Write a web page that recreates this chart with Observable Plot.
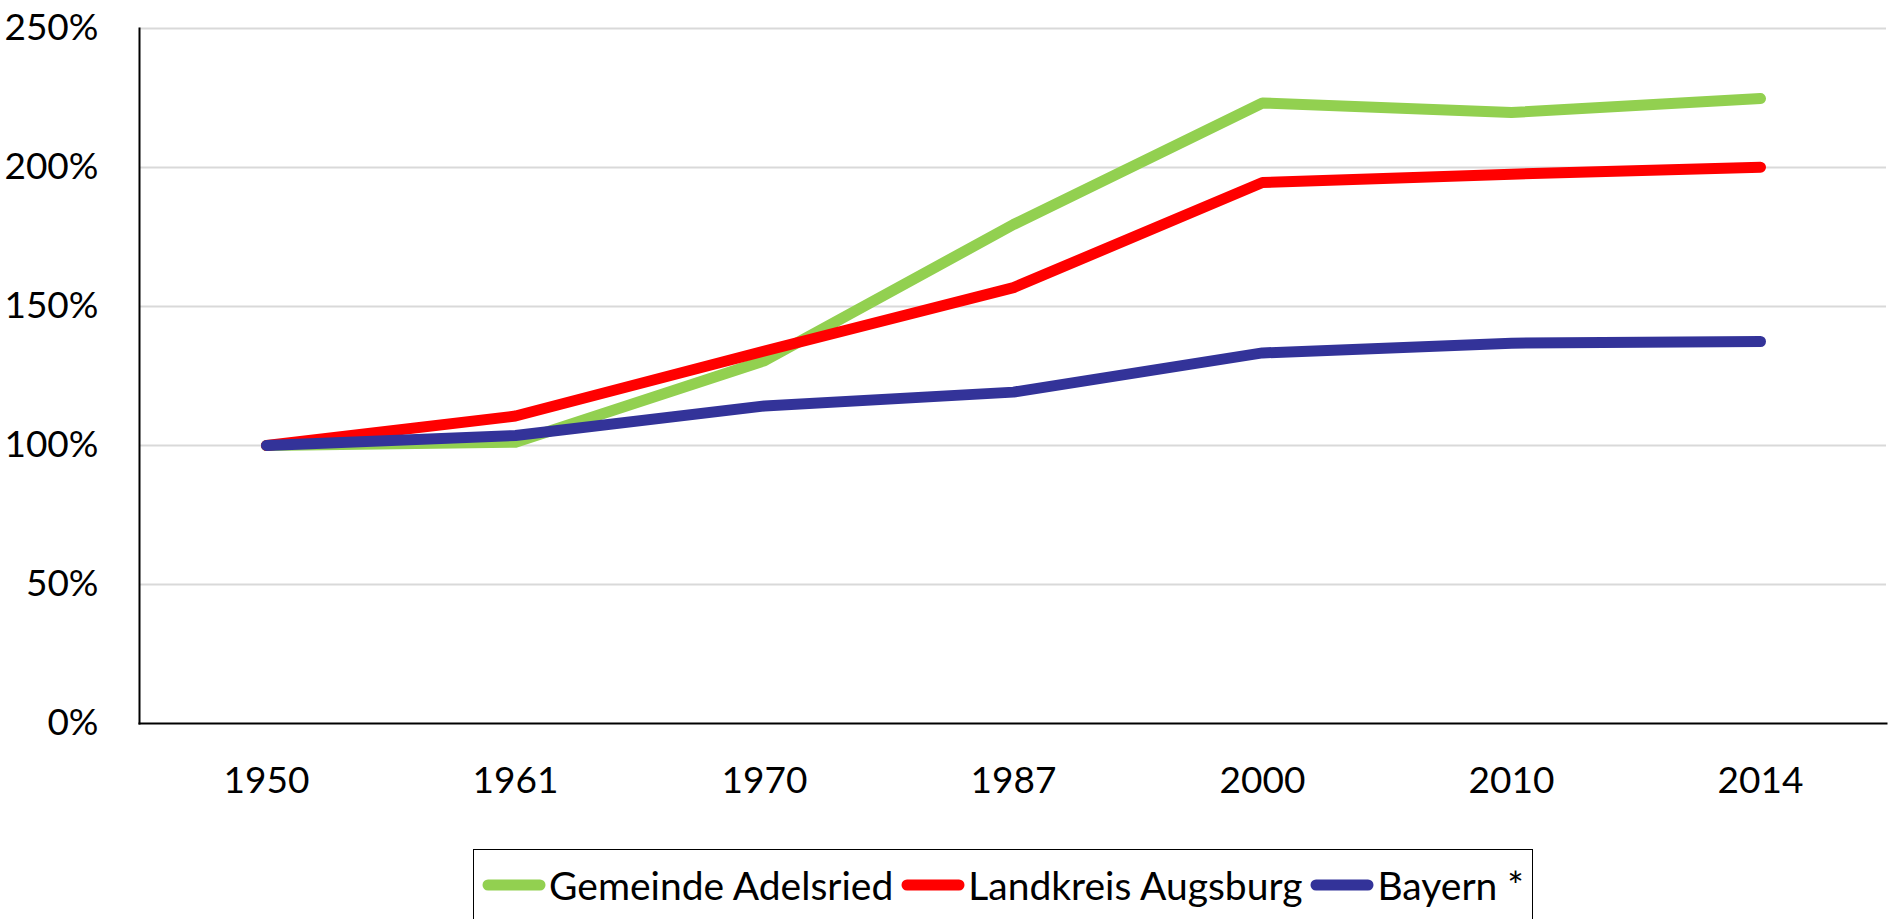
<!DOCTYPE html>
<html>
<head>
<meta charset="utf-8">
<script src="https://cdn.jsdelivr.net/npm/d3@7"></script>
<script src="https://cdn.jsdelivr.net/npm/@observablehq/plot@0.6"></script>
<style>
  html, body { margin: 0; padding: 0; background: #fff; }
  #wrap { position: relative; width: 1892px; height: 919px; overflow: hidden; font-family: Lato, sans-serif; }
  #legend {
    position: absolute; left: 473px; top: 849px; width: 1060px; height: 72px;
    box-sizing: border-box; border: 1.5px solid #000;
    display: flex; align-items: center; justify-content: center;
    font-family: Lato, sans-serif; font-size: 39px; color: #000;
  }
  .item { display: flex; align-items: center; margin: 0 4px; white-space: nowrap; }
  .item svg { margin-right: 3px; }
</style>
</head>
<body>
<div id="wrap"><div id="chart"></div><div id="legend"></div></div>
<script>
const years = ["1950", "1961", "1970", "1987", "2000", "2010", "2014"];
const seriesNames = ["Gemeinde Adelsried", "Landkreis Augsburg", "Bayern *"];
const seriesColors = ["#92d050", "#ff0000", "#333399"];
const adelsried = [100, 101.2, 130.5, 179.5, 223.2, 219.8, 224.8];
const augsburg = [100, 110.6, 134.0, 156.8, 194.6, 197.6, 200.1];
const bayern = [100, 103.6, 114.2, 119.2, 133.3, 136.8, 137.4];
const yTicks = [0, 50, 100, 150, 200, 250];
const gridTicks = [50, 100, 150, 200, 250];

const valuesBySeries = [adelsried, augsburg, bayern];
const data = [];
seriesNames.forEach((name, i) => {
  years.forEach((y, j) => data.push({series: name, year: y, value: valuesBySeries[i][j]}));
});

const chart = Plot.plot({
  width: 1892,
  height: 842,
  marginLeft: 139,
  marginRight: 6,
  marginTop: 28,
  marginBottom: 119,
  style: {fontFamily: "Lato, sans-serif", fontSize: "37px", color: "#000", background: "#fff", overflow: "visible"},
  x: {type: "point", domain: years, padding: 0.5},
  y: {domain: [0, 250]},
  color: {domain: seriesNames, range: seriesColors},
  marks: [
    Plot.ruleY(gridTicks, {stroke: "#d9d9d9", strokeWidth: 2}),
    Plot.axisY({ticks: yTicks, tickSize: 0, tickPadding: 41, tickFormat: d => d + "%", label: null}),
    Plot.axisX({tickSize: 0, tickPadding: 43, label: null}),
    Plot.line(data, {x: "year", y: "value", z: "series", stroke: "series", strokeWidth: 11,
      strokeLinecap: "round", strokeLinejoin: "round"}),
    Plot.frame({anchor: "left", stroke: "#000", strokeWidth: 2}),
    Plot.frame({anchor: "bottom", stroke: "#000", strokeWidth: 2})
  ]
});
document.getElementById("chart").appendChild(chart);

const legend = document.getElementById("legend");
seriesNames.forEach((name, i) => {
  const item = document.createElement("div");
  item.className = "item";
  item.innerHTML = `<svg width="64" height="14"><line x1="6" y1="7" x2="58" y2="7" stroke="${seriesColors[i]}" stroke-width="11" stroke-linecap="round"/></svg><span>${name}</span>`;
  legend.appendChild(item);
});
</script>
</body>
</html>
